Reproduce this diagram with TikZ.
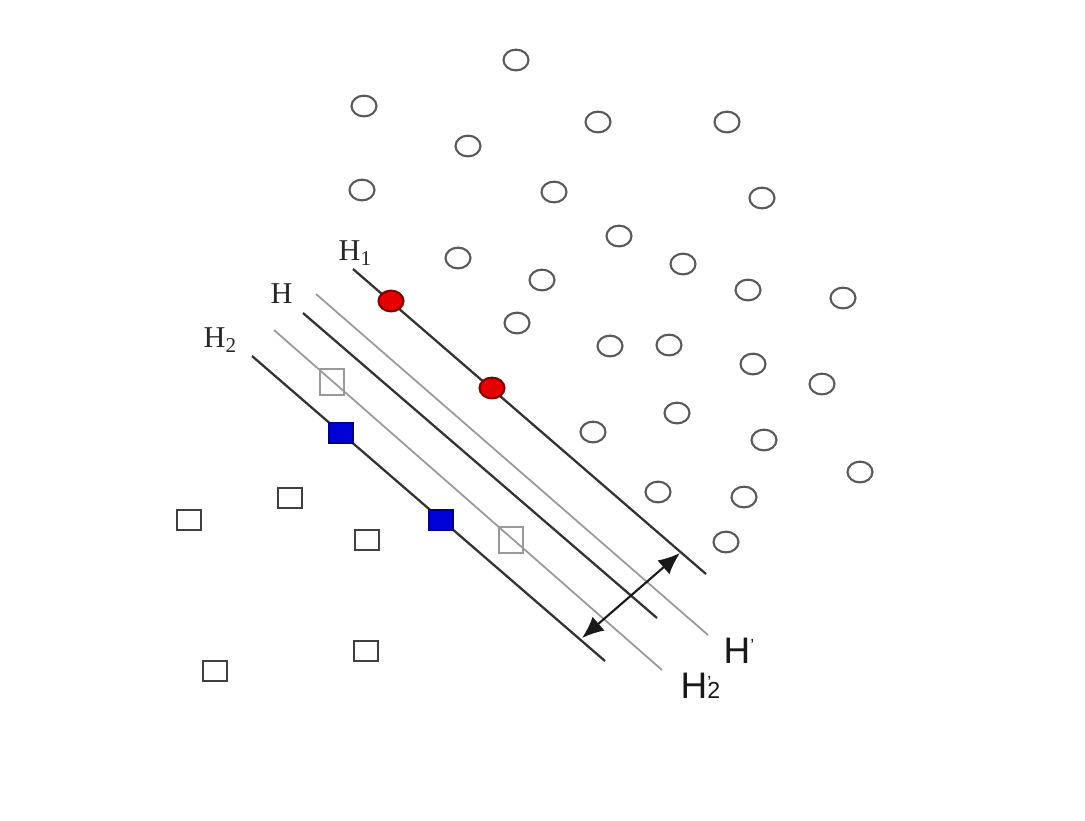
\documentclass[tikz,border=0pt]{standalone}
\usepackage{fontspec}
\setmainfont{Liberation Serif}
\setsansfont{Liberation Sans}
\usetikzlibrary{shapes.geometric,arrows.meta}
\newcommand{\mysub}[1]{\raisebox{-1.6pt}{\fontsize{6}{7}\selectfont #1}}
\begin{document}
\begin{tikzpicture}[x=0.01cm,y=-0.01cm,
  circ/.style={ellipse,draw=black!65,line width=0.6pt,inner sep=0pt,minimum width=7.1pt,minimum height=5.9pt},
  redc/.style={circ,fill=red!90!black,draw=red!50!black},
  sq/.style={rectangle,draw=black!75,line width=0.6pt,inner sep=0pt,minimum width=7pt,minimum height=5.9pt},
  bluesq/.style={sq,fill=blue!85!black,draw=blue!50!black},
  greysq/.style={sq,draw=black!40,minimum width=6.8pt,minimum height=7.2pt},
  hline/.style={draw=black!80,line width=0.65pt},
  gline/.style={draw=black!40,line width=0.5pt},
  serlab/.style={anchor=base west,inner sep=0pt,font=\fontsize{8.6}{10}\selectfont,text=black!85},
  sanlab/.style={anchor=base west,inner sep=0pt,font=\sffamily\fontsize{10.5}{12}\selectfont,text=black!90}
]
\useasboundingbox (0,0) rectangle (1085,820);
% hyperplanes
\coordinate (h1a) at (353,269); \coordinate (h1b) at (706,574);
\coordinate (g1a) at (316,294); \coordinate (g1b) at (708,635);
\coordinate (ha) at (303,313); \coordinate (hb) at (657,618);
\coordinate (g2a) at (274,330); \coordinate (g2b) at (662,670);
\coordinate (h2a) at (252,356); \coordinate (h2b) at (605,661);
\draw[gline] (g1a) -- (g1b);
\draw[gline] (g2a) -- (g2b);
\draw[hline] (h1a) -- (h1b);
\draw[hline] (ha) -- (hb);
\draw[hline] (h2a) -- (h2b);
% margin arrow
\coordinate (m1) at (582,638); \coordinate (m2) at (680,553);
\draw[black!90,line width=0.6pt,{Latex[length=6.2pt,width=5.2pt]}-{Latex[length=6.2pt,width=5.2pt]}] (m1) -- (m2);
% circles
\foreach \px/\py [count=\i] in {516/60,364/106,598/122,727/122,468/146,362/190,554/192,762/198,619/236,458/258,542/280,683/264,748/290,843/298,517/323,610/346,669/345,753/364,822/384,593/432,677/413,764/440,860/472,658/492,744/497,726/542}
  \node[circ] (c\i) at (\px,\py) {};
\node[redc] (r1) at (391,301) {};
\node[redc] (r2) at (492,388) {};
% squares
\foreach \px/\py [count=\i] in {189/520,290/498,367/540,215/671,366/651}
  \node[sq] (s\i) at (\px,\py) {};
\node[bluesq] (b1) at (341,433) {};
\node[bluesq] (b2) at (441,520) {};
\node[greysq] (q1) at (332,382) {};
\node[greysq] (q2) at (511,540) {};
% labels
\node[serlab] (lh1) at (338,260) {H\mysub{1}};
\node[serlab] (lh) at (270,303) {H};
\node[serlab] (lh2) at (203,347) {H\mysub{2}};
\node[sanlab] (lhp) at (723,663) {H\raisebox{3.2pt}{\fontsize{5}{6}\selectfont '}};
\node[sanlab] (lh2p) at (680,698) {H\rlap{\raisebox{2.6pt}{\fontsize{5}{6}\selectfont '}}{\fontsize{6.6}{7}\selectfont 2}};
\end{tikzpicture}
\end{document}
